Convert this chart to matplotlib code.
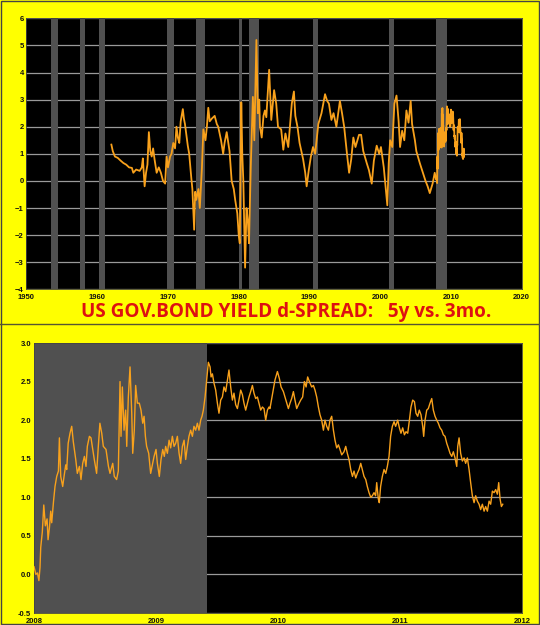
import matplotlib
matplotlib.use("Agg")
import matplotlib.pyplot as plt
from matplotlib.lines import Line2D

# NBER recessions (decimal years)
rec_start = [1953.5, 1957.6, 1960.3, 1969.9, 1973.9, 1980.0, 1981.5, 1990.5, 2001.2, 2007.92]
rec_end = [1954.4, 1958.3, 1961.1, 1970.9, 1975.2, 1980.5, 1982.9, 1991.2, 2001.9, 2009.42]

# 5y minus 3mo spread, 1962-2007
hist_year = [1962.0, 1962.2, 1962.5, 1962.9, 1963.3, 1963.7, 1964.1, 1964.5, 1964.9, 1965.1,
             1965.5, 1966.0, 1966.3, 1966.45, 1966.7, 1966.9, 1967.1, 1967.3, 1967.5, 1967.7,
             1967.9, 1968.1, 1968.4, 1968.7, 1969.0, 1969.3, 1969.6, 1969.8, 1970.0, 1970.3,
             1970.5, 1970.75, 1971.0, 1971.2, 1971.4, 1971.6, 1971.8, 1972.1, 1972.25, 1972.4,
             1972.6, 1972.8, 1973.0, 1973.3, 1973.45, 1973.7, 1973.85, 1974.0, 1974.3, 1974.5,
             1974.8, 1975.0, 1975.3, 1975.5, 1975.7, 1975.9, 1976.2, 1976.6, 1976.9, 1977.1,
             1977.5, 1977.8, 1978.0, 1978.3, 1978.7, 1979.0, 1979.3, 1979.5, 1979.8, 1980.0,
             1980.15, 1980.36, 1980.5, 1980.65, 1980.8, 1980.9, 1981.1, 1981.3, 1981.45, 1981.7,
             1982.0, 1982.2, 1982.5, 1982.7, 1982.9, 1983.0, 1983.25, 1983.5, 1983.7, 1983.9,
             1984.3, 1984.6, 1985.0, 1985.3, 1985.55, 1986.0, 1986.3, 1986.6, 1987.0, 1987.2,
             1987.5, 1987.8, 1988.0, 1988.3, 1988.6, 1989.1, 1989.4, 1989.6, 1989.9, 1990.2,
             1990.5, 1990.8, 1991.25, 1991.7, 1992.2, 1992.5, 1992.75, 1993.1, 1993.4, 1993.8,
             1994.3, 1994.6, 1994.9, 1995.3, 1995.6, 1995.9, 1996.2, 1996.5, 1997.0, 1997.3,
             1997.6, 1998.1, 1998.4, 1998.8, 1999.1, 1999.5, 1999.85, 2000.1, 2000.5, 2000.8,
             2001.0, 2001.2, 2001.4, 2001.7, 2002.0, 2002.3, 2002.6, 2002.8, 2003.1, 2003.4,
             2003.7, 2004.0, 2004.3, 2004.5, 2004.9, 2005.1, 2005.6, 2006.1, 2006.4, 2006.7,
             2007.0, 2007.4, 2007.7, 2007.9]
hist_spread = [1.34, 1.1, 0.9, 0.85, 0.75, 0.66, 0.6, 0.5, 0.48, 0.3,
               0.42, 0.37, 0.5, 0.83, -0.2, 0.3, 0.6, 1.8, 1.1, 0.9,
               1.2, 0.8, 0.3, 0.5, 0.3, 0.0, -0.1, 0.9, 0.5, 0.9,
               1.0, 1.4, 1.2, 2.0, 1.6, 1.4, 2.2, 2.65, 2.3, 2.1,
               1.7, 1.3, 1.0, 0.1, -0.3, -1.8, -0.4, -0.7, -0.3, -1.0,
               0.5, 1.9, 1.5, 2.0, 2.7, 2.2, 2.3, 2.4, 2.1, 2.0,
               1.5, 1.0, 1.4, 1.8, 1.1, 0.0, -0.3, -0.7, -1.2, -2.0,
               -2.3, 2.9, 1.0, 0.0, -2.0, -3.2, -1.0, -1.5, -2.3, 0.5,
               3.1, 1.5, 5.2, 2.5, 3.0, 2.0, 1.6, 2.4, 2.6, 2.35,
               4.1, 2.25, 3.35, 2.85, 2.0, 1.9, 1.15, 1.75, 1.25, 1.9,
               2.85, 3.3, 2.4, 2.0, 1.4, 0.8, 0.3, -0.2, 0.4, 0.9,
               1.25, 1.0, 2.1, 2.5, 3.2, 2.95, 2.85, 2.25, 2.5, 2.0,
               2.95, 2.5, 2.0, 1.0, 0.3, 0.8, 1.6, 1.25, 1.7, 1.7,
               1.1, 0.65, 0.4, -0.1, 0.75, 1.3, 1.0, 1.25, 0.5, -0.35,
               -0.9, 0.65, 1.5, 1.25, 2.85, 3.15, 2.2, 1.25, 1.85, 1.5,
               2.6, 2.15, 2.95, 2.1, 1.5, 1.1, 0.65, 0.25, 0.0, -0.2,
               -0.45, -0.1, 0.3, 0.05]

# 2008 - late 2011
recent_year = [2008.0, 2008.015, 2008.028, 2008.04, 2008.049, 2008.055, 2008.068, 2008.08, 2008.093, 2008.107,
               2008.115, 2008.126, 2008.137, 2008.145, 2008.16, 2008.172, 2008.186, 2008.2, 2008.208, 2008.219,
               2008.235, 2008.246, 2008.26, 2008.268, 2008.28, 2008.295, 2008.309, 2008.322, 2008.342, 2008.355,
               2008.372, 2008.385, 2008.399, 2008.413, 2008.426, 2008.437, 2008.454, 2008.467, 2008.481, 2008.494,
               2008.513, 2008.527, 2008.54, 2008.555, 2008.568, 2008.59, 2008.61, 2008.623, 2008.645, 2008.658,
               2008.677, 2008.691, 2008.705, 2008.713, 2008.724, 2008.738, 2008.751, 2008.76, 2008.773, 2008.787,
               2008.801, 2008.809, 2008.822, 2008.833, 2008.847, 2008.863, 2008.877, 2008.891, 2008.902, 2008.913,
               2008.923, 2008.94, 2008.956, 2008.973, 2008.984, 2009.0, 2009.011, 2009.027, 2009.041, 2009.055,
               2009.068, 2009.079, 2009.093, 2009.107, 2009.12, 2009.134, 2009.148, 2009.161, 2009.175, 2009.189,
               2009.202, 2009.216, 2009.23, 2009.243, 2009.257, 2009.27, 2009.284, 2009.298, 2009.311, 2009.325,
               2009.339, 2009.352, 2009.366, 2009.377, 2009.388, 2009.402, 2009.415, 2009.429, 2009.443, 2009.451,
               2009.462, 2009.475, 2009.489, 2009.503, 2009.516, 2009.53, 2009.544, 2009.557, 2009.571, 2009.585,
               2009.598, 2009.612, 2009.626, 2009.639, 2009.653, 2009.667, 2009.68, 2009.694, 2009.708, 2009.721,
               2009.735, 2009.749, 2009.762, 2009.776, 2009.79, 2009.803, 2009.817, 2009.831, 2009.844, 2009.858,
               2009.872, 2009.885, 2009.899, 2009.913, 2009.926, 2009.934, 2009.956, 2009.975, 2009.995, 2010.011,
               2010.025, 2010.044, 2010.057, 2010.071, 2010.085, 2010.098, 2010.112, 2010.126, 2010.139, 2010.153,
               2010.167, 2010.186, 2010.202, 2010.216, 2010.23, 2010.243, 2010.257, 2010.276, 2010.29, 2010.303,
               2010.317, 2010.331, 2010.344, 2010.358, 2010.372, 2010.385, 2010.399, 2010.413, 2010.426, 2010.44,
               2010.454, 2010.467, 2010.481, 2010.495, 2010.508, 2010.522, 2010.541, 2010.555, 2010.568, 2010.582,
               2010.596, 2010.61, 2010.623, 2010.637, 2010.65, 2010.664, 2010.678, 2010.691, 2010.705, 2010.719,
               2010.732, 2010.746, 2010.76, 2010.773, 2010.787, 2010.8, 2010.809, 2010.822, 2010.83, 2010.841,
               2010.855, 2010.869, 2010.883, 2010.896, 2010.91, 2010.923, 2010.937, 2010.951, 2010.964, 2010.981,
               2010.995, 2011.008, 2011.022, 2011.036, 2011.049, 2011.063, 2011.077, 2011.09, 2011.104, 2011.118,
               2011.131, 2011.145, 2011.158, 2011.172, 2011.186, 2011.194, 2011.205, 2011.219, 2011.232, 2011.246,
               2011.26, 2011.273, 2011.287, 2011.301, 2011.314, 2011.328, 2011.342, 2011.355, 2011.369, 2011.383,
               2011.396, 2011.41, 2011.424, 2011.437, 2011.451, 2011.465, 2011.473, 2011.484, 2011.497, 2011.511,
               2011.525, 2011.538, 2011.552, 2011.566, 2011.579, 2011.593, 2011.607, 2011.62, 2011.634, 2011.648,
               2011.661, 2011.675, 2011.689, 2011.702, 2011.716, 2011.73, 2011.743, 2011.757, 2011.771, 2011.784,
               2011.798, 2011.809, 2011.82, 2011.831, 2011.842]
recent_spread = [0.1, 0.0, 0.02, -0.08, 0.09, 0.35, 0.55, 0.9, 0.63, 0.72,
                 0.45, 0.6, 0.82, 0.67, 0.95, 1.14, 1.27, 1.34, 1.77, 1.27,
                 1.14, 1.27, 1.42, 1.36, 1.7, 1.83, 1.92, 1.72, 1.49, 1.31,
                 1.4, 1.23, 1.44, 1.53, 1.4, 1.66, 1.79, 1.77, 1.62, 1.49,
                 1.31, 1.66, 1.96, 1.83, 1.66, 1.62, 1.4, 1.31, 1.44, 1.27,
                 1.23, 1.34, 2.5, 1.79, 2.43, 1.87, 2.13, 1.66, 2.3, 2.69,
                 2.09, 1.57, 1.87, 2.45, 2.22, 2.22, 2.13, 1.96, 2.05, 1.79,
                 1.66, 1.57, 1.31, 1.44, 1.53, 1.62, 1.44, 1.27, 1.49, 1.62,
                 1.53, 1.66, 1.57, 1.74, 1.64, 1.79, 1.66, 1.7, 1.79, 1.57,
                 1.44, 1.66, 1.74, 1.49, 1.66, 1.79, 1.87, 1.79, 1.92, 1.87,
                 1.96, 1.87, 2.0, 2.05, 2.13, 2.3, 2.52, 2.75, 2.69, 2.56,
                 2.6, 2.48, 2.39, 2.22, 2.09, 2.26, 2.3, 2.43, 2.37, 2.52,
                 2.65, 2.43, 2.26, 2.35, 2.2, 2.15, 2.26, 2.39, 2.33, 2.22,
                 2.13, 2.22, 2.3, 2.37, 2.45, 2.35, 2.28, 2.3, 2.22, 2.13,
                 2.17, 2.15, 2.0, 2.13, 2.17, 2.15, 2.35, 2.52, 2.63, 2.54,
                 2.43, 2.37, 2.3, 2.22, 2.15, 2.22, 2.28, 2.37, 2.26, 2.15,
                 2.2, 2.26, 2.3, 2.5, 2.43, 2.56, 2.5, 2.43, 2.45, 2.39,
                 2.3, 2.17, 2.07, 2.0, 1.87, 2.0, 1.92, 1.87, 2.0, 2.05,
                 1.87, 1.74, 1.64, 1.68, 1.62, 1.55, 1.59, 1.66, 1.57, 1.49,
                 1.36, 1.27, 1.34, 1.25, 1.31, 1.36, 1.44, 1.36, 1.27, 1.23,
                 1.14, 1.06, 1.0, 1.02, 1.06, 1.02, 1.19, 0.98, 0.93, 1.14,
                 1.27, 1.36, 1.31, 1.4, 1.53, 1.79, 1.92, 1.98, 1.92, 2.0,
                 1.9, 1.83, 1.9, 1.81, 1.85, 1.83, 2.0, 2.17, 2.26, 2.24,
                 2.09, 2.05, 2.13, 2.07, 1.92, 1.79, 2.0, 2.13, 2.15, 2.22,
                 2.28, 2.13, 2.05, 2.0, 1.96, 1.9, 1.87, 1.81, 1.79, 1.7,
                 1.64, 1.57, 1.53, 1.59, 1.51, 1.4, 1.66, 1.77, 1.57, 1.47,
                 1.51, 1.44, 1.51, 1.36, 1.19, 1.02, 0.93, 1.02, 0.95, 0.91,
                 0.84, 0.91, 0.82, 0.88, 0.82, 0.95, 0.91, 1.08, 1.06, 1.1,
                 1.04, 1.19, 0.98, 0.88, 0.91]

title = "US GOV.BOND YIELD d-SPREAD:   5y vs. 3mo."

YELLOW = "#FFFF00"
ORANGE = "#F8A11C"
BAR = "#505050"
GRID = "#9A9A9A"

fig = plt.figure(figsize=(5.4, 6.25), dpi=100, facecolor=YELLOW)

# ---- long history panel
ax1 = fig.add_axes([0.049, 0.5371, 0.9172, 0.4336])
ax1.set_facecolor("black")
for s, e in zip(rec_start, rec_end):
    ax1.axvspan(s, e, color=BAR, lw=0, zorder=2)
ax1.plot(hist_year + recent_year, hist_spread + recent_spread, color=ORANGE, lw=1.3, zorder=3)
ax1.set_xlim(1950, 2020)
ax1.set_ylim(-4, 6)
ax1.set_xticks(range(1950, 2021, 10))
ax1.set_yticks(range(-4, 7))
ax1.grid(axis="y", color=GRID, lw=0.9, zorder=1)
ax1.set_axisbelow(True)

# ---- zoom panel 2008-2012
ax2 = fig.add_axes([0.063, 0.0192, 0.9037, 0.432])
ax2.set_facecolor("black")
ax2.axvspan(rec_start[-1], rec_end[-1], color=BAR, lw=0, zorder=2)
ax2.plot(recent_year, recent_spread, color=ORANGE, lw=1.0, zorder=3)
ax2.set_xlim(2008, 2012)
ax2.set_ylim(-0.5, 3.0)
ax2.set_xticks([2008, 2009, 2010, 2011, 2012])
ax2.set_yticks([-0.5, 0.0, 0.5, 1.0, 1.5, 2.0, 2.5, 3.0])
ax2.set_yticklabels(["-0.5", "0.0", "0.5", "1.0", "1.5", "2.0", "2.5", "3.0"])
ax2.grid(axis="y", color=GRID, lw=0.9, zorder=1)
ax2.set_axisbelow(True)

for ax in (ax1, ax2):
    ax.tick_params(length=0, labelsize=5.5, labelcolor="#111111")
    ax.tick_params(axis="x", pad=3.5)
    ax.tick_params(axis="y", pad=2)
    for lab in ax.get_xticklabels() + ax.get_yticklabels():
        lab.set_fontfamily("Liberation Sans")
        lab.set_fontweight("bold")
    for sp in ax.spines.values():
        sp.set_color("#444444")
        sp.set_linewidth(0.6)

fig.text(0.5306, 0.5012, title, color="#DD1111", fontsize=13.6, fontweight="bold",
         family="Open Sans", ha="center", va="center")

# separator and outer frame
fig.add_artist(Line2D([0, 1], [0.4810, 0.4810], transform=fig.transFigure, color="#555533", lw=1.0))
fig.add_artist(plt.Rectangle((0.001, 0.001), 0.998, 0.998, transform=fig.transFigure,
                             fill=False, edgecolor="#444444", lw=1.0))

fig.savefig("out.png", dpi=100, facecolor=YELLOW)
